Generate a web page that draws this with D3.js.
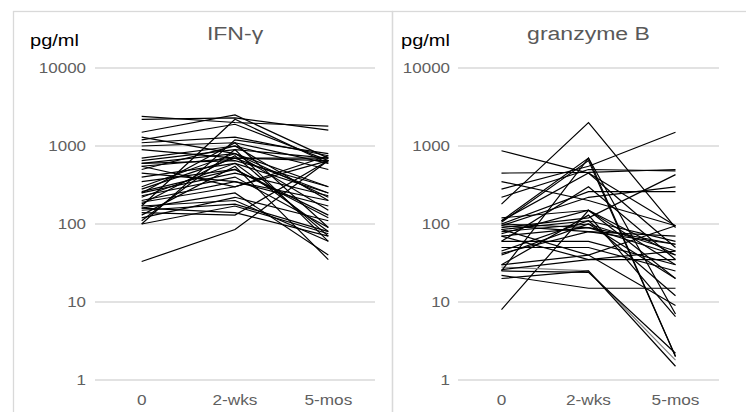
<!DOCTYPE html>
<html>
<head>
<meta charset="utf-8">
<script src="https://cdn.jsdelivr.net/npm/d3@7"></script>
<style>
  body { margin: 0; background: #fff; }
  text { font-family: "Liberation Sans", Arial, sans-serif; }
</style>
</head>
<body>
<div id="chart"></div>
<script>
const W = 746, H = 412;

const timepoints = ['0', '2-wks', '5-mos'];
const yTicks = [1, 10, 100, 1000, 10000];

// IFN-gamma, pg/ml per subject at 0 / 2-wks / 5-mos
const ifnSeries = [
  [2400, 2000, 1800], [2200, 2300, 1600], [1500, 2500, 700], [1200, 1900, 650],
  [1100, 1300, 750], [1000, 1100, 600], [700, 1000, 500], [650, 900, 700],
  [600, 800, 300], [550, 700, 250], [500, 1000, 200], [400, 600, 250],
  [300, 800, 150], [280, 700, 700], [260, 500, 120], [250, 450, 230],
  [230, 400, 90], [220, 600, 80], [200, 350, 200], [190, 300, 650],
  [180, 750, 70], [170, 2200, 600], [160, 250, 40], [150, 180, 80],
  [140, 130, 650], [130, 550, 35], [120, 220, 110], [110, 900, 60],
  [100, 1200, 800], [100, 170, 75], [33, 85, 650], [600, 650, 300],
  [450, 350, 170], [900, 700, 650], [350, 500, 130], [170, 200, 60],
  [250, 1100, 90], [1300, 800, 220], [550, 300, 750], [160, 140, 70]
];

// granzyme B, pg/ml per subject at 0 / 2-wks / 5-mos
const gzbSeries = [
  [870, 450, 95], [180, 2000, 90], [8, 150, 40], [450, 460, 500],
  [350, 200, 95], [280, 550, 1500], [220, 500, 480], [110, 700, 7],
  [105, 650, 2.0], [100, 260, 260], [95, 220, 300], [90, 120, 430],
  [85, 110, 60], [80, 100, 45], [75, 150, 20], [70, 90, 55],
  [60, 60, 30], [50, 50, 25], [45, 110, 12], [42, 80, 70],
  [30, 40, 9], [28, 25, 1.8], [26, 35, 35], [25, 24, 2.2],
  [22, 15, 15], [20, 25, 1.5], [30, 130, 6.5], [110, 450, 50],
  [100, 90, 40], [85, 40, 95], [25, 700, 2.0], [60, 300, 35],
  [40, 100, 20], [95, 80, 55], [120, 150, 30], [70, 35, 45]
];

const panels = [
  { title: 'IFN-γ', series: ifnSeries, box: [13, 392], plot: [95, 375], label: 86, unit: 30, grey: -1 },
  { title: 'granzyme B', series: gzbSeries, box: [392, 800], plot: [458, 719], label: 450, unit: 401, grey: 21 }
];

const svg = d3.select('#chart').append('svg')
  .attr('width', W).attr('height', H);

const y = d3.scaleLog().domain([1, 10000]).range([380, 68]);

panels.forEach(p => {
  const g = svg.append('g');

  g.append('rect')
    .attr('x', p.box[0] + 0.5).attr('y', 11.5)
    .attr('width', p.box[1] - p.box[0]).attr('height', 440)
    .attr('fill', 'none').attr('stroke', '#d9d9d9').attr('stroke-width', 1.3);

  const x = d3.scaleBand().domain(timepoints).range(p.plot);
  const cx = d => x(d) + x.bandwidth() / 2;

  // gridlines
  g.selectAll('.grid').data(yTicks).join('line')
    .attr('x1', p.plot[0]).attr('x2', p.plot[1])
    .attr('y1', d => y(d)).attr('y2', d => y(d))
    .attr('stroke', '#d9d9d9').attr('stroke-width', 1.5);

  // y tick labels
  g.selectAll('.ylab').data(yTicks).join('text')
    .attr('transform', d => `translate(${p.label},${y(d) + 5}) scale(1.13,1)`)
    .attr('text-anchor', 'end')
    .attr('font-size', 15).attr('fill', '#606060')
    .text(d => d);

  // x tick labels
  g.selectAll('.xlab').data(timepoints).join('text')
    .attr('transform', d => `translate(${cx(d)},405) scale(1.23,1)`)
    .attr('text-anchor', 'middle')
    .attr('font-size', 14).attr('fill', '#606060')
    .text(d => d);

  // lines
  const line = d3.line().x((d, i) => cx(timepoints[i])).y(d => y(d));
  g.selectAll('.series').data(p.series).join('path')
    .attr('d', line)
    .attr('fill', 'none')
    .attr('stroke', (d, i) => i === p.grey ? '#808080' : '#000')
    .attr('stroke-width', 1.2);

  // title + unit
  g.append('text')
    .attr('transform', `translate(${(p.plot[0] + p.plot[1]) / 2},40) scale(1.28,1)`)
    .attr('text-anchor', 'middle')
    .attr('font-size', 18).attr('fill', '#595959')
    .text(p.title);

  g.append('text')
    .attr('transform', `translate(${p.unit},46) scale(1.18,1)`)
    .attr('font-size', 17).attr('fill', '#000')
    .text('pg/ml');
});
</script>
</body>
</html>
